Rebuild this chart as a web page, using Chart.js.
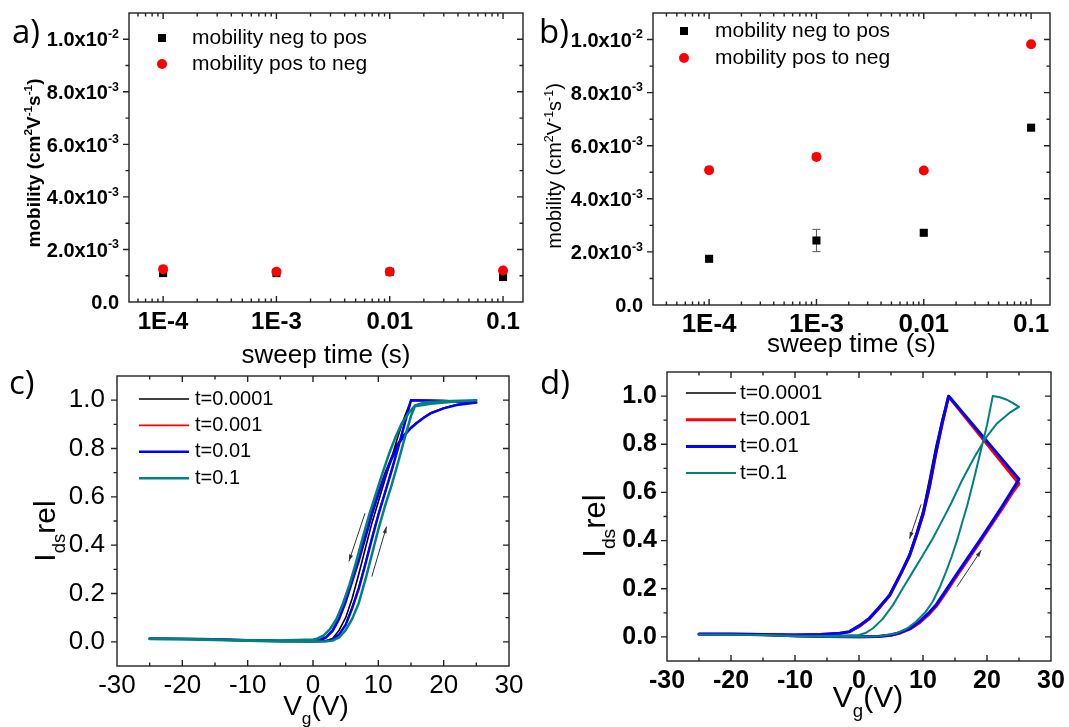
<!DOCTYPE html>
<html>
<head>
<meta charset="utf-8">
<script src="https://cdn.jsdelivr.net/npm/chart.js@4.4.1/dist/chart.umd.min.js"></script>
<style>
  body { margin: 0; background: #fff; }
  #wrap { position: relative; width: 1069px; height: 727px; overflow: hidden; background: #fff; }
  #wrap canvas { position: absolute; }
</style>
</head>
<body>
<div id="wrap">
  <canvas id="chartA" width="530" height="372" style="left:0px;top:0px"></canvas>
  <canvas id="chartB" width="539" height="372" style="left:530px;top:0px"></canvas>
  <canvas id="chartC" width="530" height="367" style="left:0px;top:360px"></canvas>
  <canvas id="chartD" width="539" height="367" style="left:530px;top:360px"></canvas>
</div>
<script>
// ---- data ----
const sweepTimes = [1e-4, 1e-3, 0.01, 0.1];
const sweepLabels = ['1E-4', '1E-3', '0.01', '0.1'];

const aNegToPos = [1.10e-3, 1.10e-3, 1.15e-3, 0.95e-3];
const aPosToNeg = [1.25e-3, 1.15e-3, 1.15e-3, 1.20e-3];
const aNegErr = [0.03e-3, 0.03e-3, 0.06e-3, 0.03e-3];
const aPosErr = [0.03e-3, 0.03e-3, 0.03e-3, 0.03e-3];

const bNegToPos = [1.74e-3, 2.43e-3, 2.72e-3, 6.68e-3];
const bPosToNeg = [5.08e-3, 5.58e-3, 5.07e-3, 9.82e-3];
const bNegErr = [0.05e-3, 0.42e-3, 0.08e-3, 0.10e-3];
const bPosErr = [0.04e-3, 0.04e-3, 0.04e-3, 0.04e-3];

const mobTicks = [0, 0.002, 0.004, 0.006, 0.008, 0.010];
const mobTickLabels = ['0.0', '2.0x10^{-3}', '4.0x10^{-3}', '6.0x10^{-3}', '8.0x10^{-3}', '1.0x10^{-2}'];
const vgTicks = [-30, -20, -10, 0, 10, 20, 30];
const vgTickLabels = ['-30', '-20', '-10', '0', '10', '20', '30'];
const idsTicks = [0, 0.2, 0.4, 0.6, 0.8, 1.0];
const idsTickLabels = ['0.0', '0.2', '0.4', '0.6', '0.8', '1.0'];
const seriesLabels = ['t=0.0001', 't=0.001', 't=0.01', 't=0.1'];

// panel c: forward sweep (-25 -> 25) then backward (25 -> -25)
const cBlueV = [-25,-20,-15,-10,-5,0,2,3,4,5,6,7,8,9,10,11,12,13,14,15,20,25,
                22,20,18,17,16,15,14,13,12,11,10,9,8,7,6,5,4,3,2,1,0,-5,-10,-15,-20,-25];
const cBlueI = [0.013,0.012,0.010,0.006,0.003,0.002,0.003,0.010,0.030,0.070,0.140,0.220,0.320,0.425,0.525,0.615,0.705,0.800,0.900,1.000,0.997,0.990,
                0.980,0.966,0.945,0.928,0.908,0.885,0.855,0.815,0.755,0.685,0.610,0.525,0.430,0.335,0.250,0.165,0.095,0.045,0.018,0.008,0.004,0.004,0.007,0.011,0.013,0.014];
const cRedV = cBlueV;
const cRedI = [0.013,0.012,0.010,0.006,0.003,0.002,0.003,0.011,0.032,0.073,0.143,0.224,0.324,0.428,0.528,0.617,0.707,0.802,0.902,1.000,0.997,0.991,
               0.981,0.967,0.946,0.929,0.909,0.886,0.856,0.817,0.757,0.687,0.612,0.527,0.432,0.337,0.252,0.167,0.096,0.046,0.019,0.008,0.004,0.004,0.007,0.011,0.013,0.014];
const cBlackV = cBlueV;
const cBlackI = [0.012,0.012,0.009,0.005,0.003,0.002,0.004,0.014,0.048,0.100,0.180,0.280,0.385,0.490,0.580,0.670,0.760,0.850,0.930,1.000,0.998,0.992,
                 0.982,0.968,0.948,0.930,0.910,0.888,0.860,0.822,0.764,0.697,0.622,0.540,0.442,0.347,0.260,0.173,0.101,0.049,0.020,0.009,0.004,0.004,0.007,0.011,0.013,0.013];
const cTealV = [-25,-20,-15,-10,-5,0,2,3,4,5,6,7,8,9,10,11,12,13,14,15,15.6,18,21,25,
                20,17,15.6,14.6,13.6,12.6,11.6,10.6,9.6,8.6,7.6,6.6,5.6,4.6,3.6,2.6,1.6,0.6,0,-5,-10,-15,-20,-25];
const cTealI = [0.012,0.011,0.008,0.004,0.001,0.001,0.002,0.005,0.018,0.048,0.095,0.160,0.255,0.360,0.465,0.560,0.645,0.740,0.840,0.935,0.975,0.985,0.992,1.000,
                0.996,0.990,0.978,0.945,0.905,0.845,0.775,0.695,0.610,0.525,0.430,0.330,0.238,0.160,0.095,0.052,0.026,0.013,0.010,0.006,0.007,0.010,0.012,0.013];

// panel d
const dBlueV = [-25,-20,-15,-10,-5,0,3,5,6.3,8,9.5,11,12.1,13.5,15.2,17,18.8,20.9,22.5,24,25,
                14,13,12,11,10,9,7.9,6.5,4.8,3,1.6,0,-1.5,-3,-6,-10,-15,-20,-25];
const dBlueI = [0.012,0.012,0.010,0.005,0.002,0.001,0.002,0.008,0.017,0.036,0.065,0.102,0.135,0.190,0.258,0.328,0.398,0.482,0.548,0.612,0.655,
                1.000,0.890,0.765,0.625,0.510,0.425,0.339,0.262,0.174,0.118,0.077,0.046,0.022,0.015,0.010,0.008,0.010,0.012,0.012];
const dRedV = dBlueV;
const dRedI = [0.011,0.011,0.009,0.005,0.002,0.001,0.002,0.007,0.015,0.033,0.060,0.096,0.128,0.182,0.250,0.320,0.390,0.474,0.538,0.600,0.636,
               0.998,0.885,0.760,0.622,0.507,0.423,0.337,0.260,0.172,0.116,0.075,0.044,0.021,0.014,0.010,0.008,0.010,0.011,0.011];
const dBlackV = dBlueV;
const dBlackI = [0.011,0.011,0.009,0.005,0.002,0.001,0.002,0.007,0.015,0.032,0.058,0.095,0.128,0.183,0.252,0.322,0.392,0.476,0.540,0.603,0.640,
                 1.000,0.905,0.790,0.655,0.525,0.435,0.345,0.262,0.172,0.112,0.072,0.040,0.020,0.013,0.009,0.008,0.010,0.011,0.011];
const dTealV = [-25,-20,-15,-10,-5,0,3.2,5.8,7.5,8.9,10.3,11.5,12.6,13.6,14.5,15.4,16.2,16.9,18,19,20,20.9,22,23,24,25,
                23.5,21.5,19.9,18,16,14.4,13.1,11.5,10,8.4,6.8,5.3,3.7,2.2,1,0,-5,-10,-15,-20,-25];
const dTealI = [0.010,0.010,0.007,0.003,0.001,0.001,0.003,0.015,0.035,0.063,0.100,0.146,0.205,0.270,0.335,0.408,0.482,0.545,0.660,0.770,0.880,1.000,0.995,0.986,0.972,0.955,
                0.930,0.885,0.830,0.745,0.645,0.555,0.488,0.408,0.340,0.270,0.200,0.132,0.075,0.036,0.016,0.008,0.004,0.005,0.008,0.009,0.010];

// sweep direction arrows [V1, I1, V2, I2], head at the second point
const arrowsC = [[7.96, 0.532, 5.5, 0.333], [9.0, 0.27, 11.25, 0.477]];
const arrowsD = [[9.7, 0.55, 7.9, 0.408], [15.3, 0.208, 19.1, 0.36]];

// ---- helpers ----
const FAMILY = '"Liberation Sans", Arial, sans-serif';
Chart.defaults.font.family = FAMILY;
Chart.defaults.color = '#000';

const pts = (xs, ys) => xs.map((v, k) => ({ x: v, y: ys[k] }));

function richParts(str) {
  const out = [], re = /(\^|_)\{([^}]*)\}/g;
  let last = 0, m;
  while ((m = re.exec(str))) {
    if (m.index > last) out.push({ t: str.slice(last, m.index), m: 0 });
    out.push({ t: m[2], m: m[1] === '^' ? 1 : -1 });
    last = re.lastIndex;
  }
  if (last < str.length) out.push({ t: str.slice(last), m: 0 });
  return out;
}

function drawRich(ctx, str, x, y, size, weight, align) {
  const parts = richParts(str), small = size * 0.62;
  let w = 0;
  parts.forEach(p => {
    ctx.font = weight + ' ' + (p.m ? small : size) + 'px ' + FAMILY;
    p.w = ctx.measureText(p.t).width;
    w += p.w;
  });
  let cx = align === 'center' ? x - w / 2 : align === 'right' ? x - w : x;
  ctx.textAlign = 'left';
  ctx.textBaseline = 'alphabetic';
  parts.forEach(p => {
    ctx.font = weight + ' ' + (p.m ? small : size) + 'px ' + FAMILY;
    const dy = p.m === 1 ? -size * 0.42 : p.m === -1 ? size * 0.32 : 0;
    ctx.fillText(p.t, cx, y + dy);
    cx += p.w;
  });
}

function minorValues(scale) {
  const out = [];
  if (scale.type === 'logarithmic') {
    for (let e = Math.floor(Math.log10(scale.min)); e <= Math.ceil(Math.log10(scale.max)); e++) {
      for (let d = 2; d <= 9; d++) {
        const v = d * Math.pow(10, e);
        if (v >= scale.min && v <= scale.max) out.push(v);
      }
    }
  } else {
    const t = scale.ticks.map(k => k.value), step = t[1] - t[0];
    for (let v = t[0] - step / 2; v <= scale.max + 1e-9; v += step) {
      if (v >= scale.min - 1e-9) out.push(v);
    }
  }
  return out;
}

// frame, ticks, error bars, legend, titles
const deco = {
  id: 'deco',
  beforeDatasetsDraw(chart) {
    const ctx = chart.ctx, xs = chart.scales.x, ys = chart.scales.y;
    chart.data.datasets.forEach(ds => {
      if (!ds.yErr) return;
      ctx.save();
      ctx.strokeStyle = '#555';
      ctx.lineWidth = 1;
      ctx.beginPath();
      ds.data.forEach((p, k) => {
        const px = xs.getPixelForValue(p.x);
        const top = ys.getPixelForValue(p.y + ds.yErr[k]);
        const bot = ys.getPixelForValue(p.y - ds.yErr[k]);
        ctx.moveTo(px, top); ctx.lineTo(px, bot);
        ctx.moveTo(px - 4, top); ctx.lineTo(px + 4, top);
        ctx.moveTo(px - 4, bot); ctx.lineTo(px + 4, bot);
      });
      ctx.stroke();
      ctx.restore();
    });
  },
  afterDraw(chart, args, o) {
    const ctx = chart.ctx, a = chart.chartArea, xs = chart.scales.x, ys = chart.scales.y;
    ctx.save();
    ctx.strokeStyle = '#222';
    ctx.lineWidth = 1.4;
    ctx.strokeRect(a.left, a.top, a.right - a.left, a.bottom - a.top);

    ctx.beginPath();
    const xTick = (v, len) => {
      const p = xs.getPixelForValue(v);
      if (p < a.left + 1 || p > a.right - 1) return;
      ctx.moveTo(p, a.bottom); ctx.lineTo(p, a.bottom - len);
      ctx.moveTo(p, a.top); ctx.lineTo(p, a.top + len);
    };
    const yTick = (v, len) => {
      const p = ys.getPixelForValue(v);
      if (p < a.top + 1 || p > a.bottom - 1) return;
      ctx.moveTo(a.left, p); ctx.lineTo(a.left - len, p);
      ctx.moveTo(a.right, p); ctx.lineTo(a.right - len, p);
    };
    xs.ticks.forEach(t => xTick(t.value, 6));
    minorValues(xs).forEach(v => xTick(v, 3.5));
    ys.ticks.forEach(t => yTick(t.value, 6));
    minorValues(ys).forEach(v => yTick(v, 3.5));
    ctx.stroke();

    ctx.fillStyle = '#000';
    // rich y tick labels
    if (o.yRich) {
      ys.ticks.forEach((t, k) => {
        const p = ys.getPixelForValue(t.value);
        drawRich(ctx, o.yRich.labels[k], a.left - o.yRich.gap, p + o.yRich.size * 0.36, o.yRich.size, 'bold', 'right');
      });
    }

    // arrows
    (o.arrows || []).forEach(ar => {
      const x1 = xs.getPixelForValue(ar[0]), y1 = ys.getPixelForValue(ar[1]);
      const x2 = xs.getPixelForValue(ar[2]), y2 = ys.getPixelForValue(ar[3]);
      const ang = Math.atan2(y2 - y1, x2 - x1);
      ctx.strokeStyle = '#333'; ctx.fillStyle = '#333'; ctx.lineWidth = 1;
      ctx.beginPath(); ctx.moveTo(x1, y1); ctx.lineTo(x2, y2); ctx.stroke();
      ctx.beginPath();
      ctx.moveTo(x2, y2);
      ctx.lineTo(x2 - 7 * Math.cos(ang - 0.3), y2 - 7 * Math.sin(ang - 0.3));
      ctx.lineTo(x2 - 7 * Math.cos(ang + 0.3), y2 - 7 * Math.sin(ang + 0.3));
      ctx.closePath(); ctx.fill();
    });

    // legend
    const lg = o.legend;
    chart.data.datasets.forEach((ds, k) => {
      const y = lg.y + k * lg.dy;
      if (lg.kind === 'point') {
        ctx.fillStyle = ds.backgroundColor;
        if (ds.pointStyle === 'rect') {
          ctx.fillRect(lg.x - 4, y - 4, 8, 8);
        } else {
          ctx.beginPath(); ctx.arc(lg.x, y, 5, 0, Math.PI * 2); ctx.fill();
        }
      } else {
        ctx.strokeStyle = ds.borderColor; ctx.lineWidth = ds.borderWidth;
        ctx.beginPath(); ctx.moveTo(lg.x, y); ctx.lineTo(lg.x2, y); ctx.stroke();
      }
      ctx.fillStyle = '#000';
      ctx.font = lg.size + 'px ' + FAMILY;
      ctx.textAlign = 'left'; ctx.textBaseline = 'middle';
      ctx.fillText(ds.label, lg.tx, y);
    });

    // axis titles
    ctx.fillStyle = '#000';
    const xt = o.xTitle;
    drawRich(ctx, xt.text, (a.left + a.right) / 2 + xt.dx, xt.y, xt.size, xt.weight, 'center');
    const yt = o.yTitle;
    ctx.save();
    ctx.translate(yt.x, yt.y);
    ctx.rotate(-Math.PI / 2);
    drawRich(ctx, yt.text, 0, 0, yt.size, yt.weight, 'center');
    ctx.restore();

    // panel letter
    ctx.font = o.panel.size + 'px "Open Sans", ' + FAMILY;
    ctx.textAlign = 'left'; ctx.textBaseline = 'alphabetic';
    ctx.fillText(o.panel.text, o.panel.x, o.panel.y);
    ctx.restore();
  }
};

function fixedAxis(size, isX) {
  return s => {
    if (isX) { s.height = size; s.paddingLeft = 0; s.paddingRight = 0; }
    else { s.width = size; s.paddingTop = 0; s.paddingBottom = 0; }
  };
}

function mobilityChart(id, neg, pos, negErr, posErr, geo) {
  return new Chart(document.getElementById(id), {
    type: 'scatter',
    data: {
      datasets: [
        { label: 'mobility neg to pos', data: pts(sweepTimes, neg), yErr: negErr, order: 2,
          pointStyle: 'rect', pointRadius: 5.7, backgroundColor: '#000', borderColor: '#000', borderWidth: 0 },
        { label: 'mobility pos to neg', data: pts(sweepTimes, pos), yErr: posErr, order: 1,
          pointStyle: 'circle', pointRadius: 5, backgroundColor: '#ff0000', borderColor: '#ff0000', borderWidth: 0 }
      ]
    },
    options: {
      responsive: false, animation: false, events: [],
      layout: { padding: { left: 0, right: geo.right, top: geo.top, bottom: 0 } },
      plugins: {
        legend: { display: false }, tooltip: { enabled: false },
        deco: geo.deco
      },
      scales: {
        x: {
          type: 'logarithmic', min: geo.xmin, max: 0.15,
          afterBuildTicks: s => { s.ticks = sweepTimes.map(v => ({ value: v })); },
          afterFit: fixedAxis(geo.xh, true),
          grid: { display: false, drawTicks: false }, border: { display: false },
          ticks: { callback: (v, i) => sweepLabels[i], autoSkip: false, maxRotation: 0,
                   padding: geo.xpad, font: { size: geo.xfont, weight: 'bold' } }
        },
        y: {
          type: 'linear', min: 0, max: 0.011,
          afterBuildTicks: s => { s.ticks = mobTicks.map(v => ({ value: v })); },
          afterFit: fixedAxis(geo.yw, false),
          grid: { display: false, drawTicks: false }, border: { display: false },
          ticks: { display: false }
        }
      }
    },
    plugins: [deco]
  });
}

function transferChart(id, series, geo) {
  const colors = ['#000000', '#ff0000', '#0000ff', '#008080'];
  return new Chart(document.getElementById(id), {
    type: 'scatter',
    data: {
      datasets: series.map((s, k) => ({
        label: seriesLabels[k], data: pts(s[0], s[1]), showLine: true, pointRadius: 0,
        borderColor: colors[k], borderWidth: geo.widths[k], order: 4 - k,
        borderJoinStyle: 'round', borderCapStyle: 'round', tension: 0
      }))
    },
    options: {
      responsive: false, animation: false, events: [],
      layout: { padding: { left: 0, right: geo.right, top: geo.top, bottom: 0 } },
      plugins: {
        legend: { display: false }, tooltip: { enabled: false },
        deco: geo.deco
      },
      scales: {
        x: {
          type: 'linear', min: -30, max: 30,
          afterBuildTicks: s => { s.ticks = vgTicks.map(v => ({ value: v })); },
          afterFit: fixedAxis(geo.xh, true),
          grid: { display: false, drawTicks: false }, border: { display: false },
          ticks: { callback: (v, i) => vgTickLabels[i], autoSkip: false, maxRotation: 0,
                   padding: geo.xpad, font: { size: geo.tfont, weight: geo.tweight } }
        },
        y: {
          type: 'linear', min: -0.1, max: 1.1,
          afterBuildTicks: s => { s.ticks = idsTicks.map(v => ({ value: v })); },
          afterFit: fixedAxis(geo.yw, false),
          grid: { display: false, drawTicks: false }, border: { display: false },
          ticks: { callback: (v, i) => idsTickLabels[i], padding: geo.ypad,
                   font: { size: geo.tfont, weight: geo.tweight } }
        }
      }
    },
    plugins: [deco]
  });
}

mobilityChart('chartA', aNegToPos, aPosToNeg, aNegErr, aPosErr, {
  right: 7, top: 13, xh: 70, yw: 129, xmin: 5e-5, xpad: 6, xfont: 24,
  deco: {
    yRich: { labels: mobTickLabels, gap: 10, size: 20 },
    legend: { kind: 'point', x: 162, y: 38, dy: 26, tx: 192, size: 21 },
    xTitle: { text: 'sweep time (s)', dx: 0, y: 363, size: 26, weight: 'normal' },
    yTitle: { text: 'mobility (cm^{2}V^{-1}s^{-1})', x: 40, y: 163, size: 19, weight: 'bold' },
    panel: { text: 'a)', x: 12, y: 43, size: 33 }
  }
});

mobilityChart('chartB', bNegToPos, bPosToNeg, bNegErr, bPosErr, {
  right: 19, top: 13, xh: 67, yw: 123, xmin: 3e-5, xpad: 4, xfont: 26,
  deco: {
    yRich: { labels: mobTickLabels, gap: 10, size: 20 },
    legend: { kind: 'point', x: 154, y: 31, dy: 27, tx: 185, size: 21 },
    xTitle: { text: 'sweep time (s)', dx: 0, y: 352, size: 26, weight: 'normal' },
    yTitle: { text: 'mobility (cm^{2}V^{-1}s^{-1})', x: 31, y: 166, size: 20, weight: 'normal' },
    panel: { text: 'b)', x: 9, y: 43, size: 33 }
  }
});

transferChart('chartC', [[cBlackV, cBlackI], [cRedV, cRedI], [cBlueV, cBlueI], [cTealV, cTealI]], {
  right: 21, top: 16, xh: 61, yw: 117, xpad: 4, ypad: 12, tfont: 26, tweight: 'normal',
  widths: [1.6, 1.6, 2.5, 2.5],
  deco: {
    arrows: arrowsC,
    legend: { kind: 'line', x: 139, x2: 189, y: 39, dy: 26.4, tx: 195, size: 20 },
    xTitle: { text: 'V_{g}(V)', dx: 3, y: 355, size: 28, weight: 'normal' },
    yTitle: { text: 'I_{ds}rel', x: 55, y: 171, size: 30, weight: 'normal' },
    panel: { text: 'c)', x: 9, y: 34, size: 33 }
  }
});

transferChart('chartD', [[dBlackV, dBlackI], [dRedV, dRedI], [dBlueV, dBlueI], [dTealV, dTealI]], {
  right: 18, top: 12, xh: 66, yw: 137, xpad: 5, ypad: 10, tfont: 25, tweight: 'bold',
  widths: [1.5, 3, 3, 2],
  deco: {
    arrows: arrowsD,
    legend: { kind: 'line', x: 156, x2: 206, y: 33, dy: 26.7, tx: 210, size: 21 },
    xTitle: { text: 'V_{g}(V)', dx: 9, y: 347, size: 30, weight: 'normal' },
    yTitle: { text: 'I_{ds}rel', x: 75, y: 166, size: 31, weight: 'normal' },
    panel: { text: 'd)', x: 10, y: 34, size: 33 }
  }
});
</script>
</body>
</html>
